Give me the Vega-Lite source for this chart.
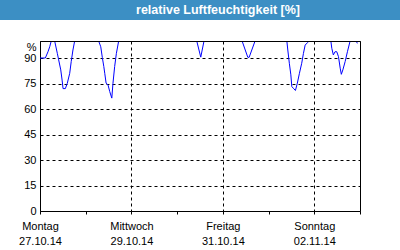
{
  "$schema": "https://vega.github.io/schema/vega-lite/v6.json",
  "padding": 0,
  "background": "white",
  "spacing": 21,
  "config": {"font": "Liberation Sans"},
  "vconcat": [
    {
      "width": 360,
      "height": 20,
      "view": {"fill": "#3c8fc4", "stroke": null},
      "data": {"values": [{"title": "relative Luftfeuchtigkeit [%]"}]},
      "mark": {"type": "text", "color": "white", "fontWeight": "bold", "fontSize": 12.5, "font": "Liberation Sans", "baseline": "middle", "align": "center", "dx": -2},
      "encoding": {
        "text": {"field": "title", "type": "nominal"},
        "y": {"datum": 0, "type": "quantitative", "scale": {"domain": [-1, 1]},
          "axis": {"orient": "left", "offset": 20, "translate": 0, "domainWidth": 40, "domainColor": "#3c8fc4", "domainCap": "butt", "labels": false, "ticks": false, "grid": false, "title": null, "minExtent": 20, "maxExtent": 20}}
      }
    },
    {
      "width": 320,
      "height": 170,
      "view": {"stroke": null, "fill": "white"},
      "data": {"values": [
        {"time": "2014-10-27T00:00:00Z", "rh": 90},
        {"time": "2014-10-27T02:48:00Z", "rh": 90},
        {"time": "2014-10-27T04:12:00Z", "rh": 93.7},
        {"time": "2014-10-27T05:06:00Z", "rh": 96.6},
        {"time": "2014-10-27T05:54:00Z", "rh": 100},
        {"time": "2014-10-27T07:42:00Z", "rh": 100},
        {"time": "2014-10-27T09:06:00Z", "rh": 92.7},
        {"time": "2014-10-27T09:48:00Z", "rh": 88.9},
        {"time": "2014-10-27T10:54:00Z", "rh": 83},
        {"time": "2014-10-27T11:36:00Z", "rh": 77},
        {"time": "2014-10-27T12:06:00Z", "rh": 72},
        {"time": "2014-10-27T13:18:00Z", "rh": 72},
        {"time": "2014-10-27T14:18:00Z", "rh": 75},
        {"time": "2014-10-27T15:36:00Z", "rh": 81},
        {"time": "2014-10-27T16:24:00Z", "rh": 88},
        {"time": "2014-10-27T17:18:00Z", "rh": 94.7},
        {"time": "2014-10-27T18:12:00Z", "rh": 100},
        {"time": "2014-10-28T06:48:00Z", "rh": 100},
        {"time": "2014-10-28T07:54:00Z", "rh": 96.6},
        {"time": "2014-10-28T08:42:00Z", "rh": 90.4},
        {"time": "2014-10-28T09:30:00Z", "rh": 85},
        {"time": "2014-10-28T10:00:00Z", "rh": 81},
        {"time": "2014-10-28T10:42:00Z", "rh": 75.2},
        {"time": "2014-10-28T11:42:00Z", "rh": 74.2},
        {"time": "2014-10-28T12:36:00Z", "rh": 70.3},
        {"time": "2014-10-28T13:42:00Z", "rh": 66.4},
        {"time": "2014-10-28T14:18:00Z", "rh": 75},
        {"time": "2014-10-28T15:12:00Z", "rh": 85},
        {"time": "2014-10-28T16:06:00Z", "rh": 92.7},
        {"time": "2014-10-28T17:18:00Z", "rh": 100},
        {"time": "2014-10-30T10:18:00Z", "rh": 100},
        {"time": "2014-10-30T12:24:00Z", "rh": 90.5},
        {"time": "2014-10-30T14:06:00Z", "rh": 100},
        {"time": "2014-10-31T10:06:00Z", "rh": 100},
        {"time": "2014-10-31T13:06:00Z", "rh": 90.4},
        {"time": "2014-10-31T13:48:00Z", "rh": 90.4},
        {"time": "2014-10-31T16:54:00Z", "rh": 100},
        {"time": "2014-11-01T09:36:00Z", "rh": 100},
        {"time": "2014-11-01T10:06:00Z", "rh": 94.7},
        {"time": "2014-11-01T10:54:00Z", "rh": 86.9},
        {"time": "2014-11-01T11:42:00Z", "rh": 80.1},
        {"time": "2014-11-01T12:12:00Z", "rh": 73.2},
        {"time": "2014-11-01T13:00:00Z", "rh": 72.2},
        {"time": "2014-11-01T14:06:00Z", "rh": 70.9},
        {"time": "2014-11-01T15:06:00Z", "rh": 75.2},
        {"time": "2014-11-01T16:12:00Z", "rh": 81},
        {"time": "2014-11-01T17:24:00Z", "rh": 86.9},
        {"time": "2014-11-01T18:18:00Z", "rh": 92.7},
        {"time": "2014-11-01T19:12:00Z", "rh": 97.6},
        {"time": "2014-11-01T20:36:00Z", "rh": 99.2},
        {"time": "2014-11-01T21:18:00Z", "rh": 100},
        {"time": "2014-11-02T08:42:00Z", "rh": 100},
        {"time": "2014-11-02T09:12:00Z", "rh": 95.7},
        {"time": "2014-11-02T10:00:00Z", "rh": 91.8},
        {"time": "2014-11-02T10:54:00Z", "rh": 93.7},
        {"time": "2014-11-02T11:48:00Z", "rh": 93.7},
        {"time": "2014-11-02T12:42:00Z", "rh": 90.8},
        {"time": "2014-11-02T13:36:00Z", "rh": 84},
        {"time": "2014-11-02T14:12:00Z", "rh": 80.4},
        {"time": "2014-11-02T15:00:00Z", "rh": 83},
        {"time": "2014-11-02T16:12:00Z", "rh": 87.9},
        {"time": "2014-11-02T17:24:00Z", "rh": 93.7},
        {"time": "2014-11-02T18:48:00Z", "rh": 100},
        {"time": "2014-11-02T22:00:00Z", "rh": 100},
        {"time": "2014-11-02T22:36:00Z", "rh": 98.6}
      ]},
      "layer": [
        {
          "mark": {"type": "line", "color": "#0000ff", "strokeWidth": 1, "clip": true},
          "encoding": {
            "x": {
              "field": "time", "type": "temporal",
              "scale": {"type": "utc", "domain": [{"year": 2014, "month": 10, "date": 27, "utc": true}, {"year": 2014, "month": 11, "date": 3, "utc": true}], "nice": false},
              "axis": {
                "title": null,
                "values": [
                  {"year": 2014, "month": 10, "date": 27, "utc": true},
                  {"year": 2014, "month": 10, "date": 28, "utc": true},
                  {"year": 2014, "month": 10, "date": 29, "utc": true},
                  {"year": 2014, "month": 10, "date": 30, "utc": true},
                  {"year": 2014, "month": 10, "date": 31, "utc": true},
                  {"year": 2014, "month": 11, "date": 1, "utc": true},
                  {"year": 2014, "month": 11, "date": 2, "utc": true},
                  {"year": 2014, "month": 11, "date": 3, "utc": true}
                ],
                "labelExpr": "(round((datum.value - 1414368000000) / 86400000) % 2 == 0 && datum.value < 1414900000000) ? [['Sonntag','Montag','Dienstag','Mittwoch','Donnerstag','Freitag','Samstag'][utcday(datum.value)], utcFormat(datum.value, '%d.%m.%y')] : ''",
                "labelFont": "Liberation Sans", "labelFontSize": 11, "labelColor": "black",
                "labelAlign": "center", "labelBaseline": "top", "labelLineHeight": 15,
                "labelPadding": 6, "labelFlush": false, "labelOverlap": false,
                "tickSize": 3, "tickColor": "black", "domainColor": "black",
                "grid": true, "gridColor": "black", "gridDash": [3, 3],
                "gridOpacity": {"condition": {"test": "round((datum.value - 1414368000000) / 86400000) % 2 == 1", "value": 0}, "value": 1}
              }
            },
            "y": {
              "field": "rh", "type": "quantitative",
              "scale": {"domain": [0, 100], "nice": false},
              "axis": {
                "title": null,
                "values": [0, 15, 30, 45, 60, 75, 90, 100],
                "labelExpr": "datum.value == 100 ? '%' : datum.label",
                "labelBaseline": {"condition": {"test": "datum.value == 100", "value": "top"}, "value": "middle"},
                "labelFont": "Liberation Sans", "labelFontSize": 11, "labelColor": "black",
                "labelPadding": 4, "labelFlush": false, "labelOverlap": false,
                "ticks": false, "domainColor": "black",
                "minExtent": 40, "maxExtent": 40,
                "grid": true, "gridColor": "black", "gridDash": [3, 3]
              }
            }
          }
        },
        {
          "mark": {"type": "line", "strokeOpacity": 0},
          "encoding": {
            "x": {"field": "time", "type": "temporal", "axis": {"orient": "top", "title": null, "labels": false, "ticks": false, "grid": false, "domainColor": "black", "zindex": 1, "minExtent": 0, "maxExtent": 0}},
            "y": {"field": "rh", "type": "quantitative", "axis": {"orient": "right", "title": null, "labels": false, "ticks": false, "grid": false, "domainColor": "black", "zindex": 1, "minExtent": 0, "maxExtent": 0}}
          }
        }
      ],
      "resolve": {"axis": {"x": "independent", "y": "independent"}}
    }
  ]
}
